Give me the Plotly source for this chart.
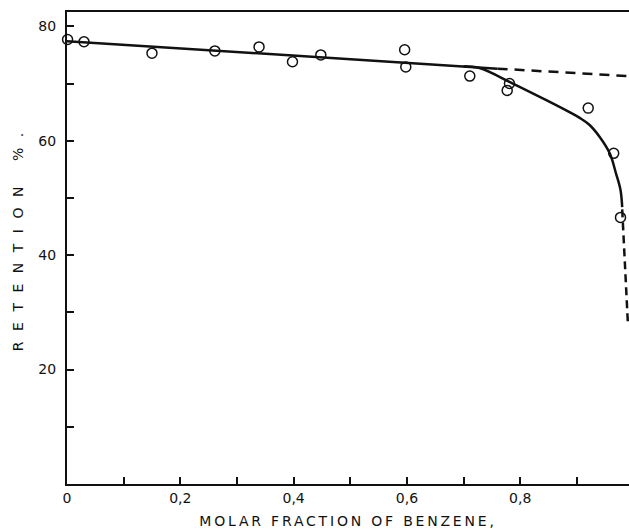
import plotly.graph_objects as go

# measured points (molar fraction of benzene, retention %)
pts_x = [0.001, 0.030, 0.150, 0.261, 0.339, 0.398, 0.448, 0.596, 0.598, 0.711, 0.781, 0.777, 0.920, 0.965, 0.977]
pts_y = [77.7, 77.3, 75.3, 75.7, 76.4, 73.8, 75.0, 75.9, 72.9, 71.3, 70.0, 68.8, 65.7, 57.8, 46.6]

# straight solid line and its dashed extrapolation
line_x = [0.0, 0.760]
line_y = [77.4, 72.6]
ext_x = [0.760, 0.991]
ext_y = [72.6, 71.3]

# solid curved branch
curve_x = [0.700, 0.728, 0.787, 0.846, 0.887, 0.905, 0.922, 0.940, 0.958, 0.969, 0.977, 0.980]
curve_y = [73.0, 72.7, 70.0, 67.1, 65.0, 64.0, 62.8, 60.7, 57.8, 54.3, 51.4, 48.4]

# dashed steep end
drop_x = [0.980, 0.990]
drop_y = [48.0, 28.1]

x_ticks = [0.0, 0.1, 0.2, 0.3, 0.4, 0.5, 0.6, 0.7, 0.8, 0.9]
x_text = ["0", "", "0,2", "", "0,4", "", "0,6", "", "0,8", ""]
y_ticks = [10, 20, 30, 40, 50, 60, 70, 80]
y_text = ["", "20", "", "40", "", "60", "", "80"]

ink = "#111111"
fig = go.Figure()
fig.add_trace(go.Scatter(x=line_x, y=line_y, mode="lines", line=dict(color=ink, width=2.5), showlegend=False))
fig.add_trace(go.Scatter(x=ext_x, y=ext_y, mode="lines", line=dict(color=ink, width=2.5, dash="10px,7px"), showlegend=False))
fig.add_trace(go.Scatter(x=curve_x, y=curve_y, mode="lines", line=dict(color=ink, width=2.5, shape="spline", smoothing=1.0), showlegend=False))
fig.add_trace(go.Scatter(x=drop_x, y=drop_y, mode="lines", line=dict(color=ink, width=2.5, dash="8px,5px"), showlegend=False))
fig.add_trace(go.Scatter(x=pts_x, y=pts_y, mode="markers",
                         marker=dict(symbol="circle-open", size=10, color=ink, line=dict(width=1.5, color=ink)),
                         showlegend=False, cliponaxis=False))

font = dict(family="DejaVu Sans", size=14, color=ink)
fig.update_layout(
    width=629, height=529,
    margin=dict(l=67, r=0, t=12, b=45),
    paper_bgcolor="white", plot_bgcolor="white",
    font=font,
    xaxis=dict(range=[0, 0.992], tickvals=x_ticks, ticktext=x_text, ticks="inside", ticklen=7,
               tickwidth=2, tickcolor=ink, showline=True, linewidth=2, linecolor=ink, mirror=True,
               showgrid=False, zeroline=False, automargin=False,
               title=dict(text='<span style="letter-spacing:2.8px">MOLAR FRACTION OF BENZENE,</span>',
                          font=dict(family="DejaVu Sans", size=14, color=ink), standoff=12)),
    yaxis=dict(range=[0, 82.5], tickvals=y_ticks, ticktext=y_text, ticks="inside", ticklen=7,
               tickwidth=2, tickcolor=ink, showline=True, linewidth=2, linecolor=ink,
               showgrid=False, zeroline=False, ticklabelstandoff=6, automargin=False),
    annotations=[dict(text='<span style="letter-spacing:10.5px">RETENTION %.</span>',
                      xref="paper", yref="paper", x=0, y=0.523, xshift=-49,
                      xanchor="center", yanchor="middle", textangle=-90, showarrow=False,
                      font=dict(family="DejaVu Sans", size=14, color=ink))],
)
# remove the page's default body margin so the figure fills the window exactly
fig.write_html("out.html", config={"displayModeBar": False},
               post_script="document.body.style.margin='0';document.body.style.overflow='hidden';")
